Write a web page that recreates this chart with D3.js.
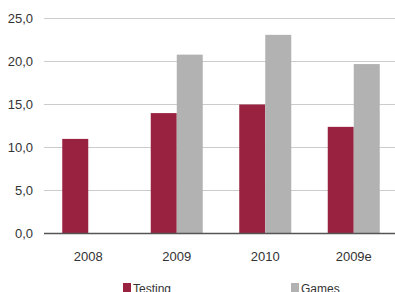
<!DOCTYPE html>
<html>
<head>
<meta charset="utf-8">
<script src="https://cdn.jsdelivr.net/npm/d3@7/dist/d3.min.js"></script>
<style>
  body { margin: 0; background: #fff; }
  svg text { font-family: "Liberation Sans", Arial, sans-serif; fill: #333; }
</style>
</head>
<body>
<svg id="chart" width="395" height="292"></svg>
<script>
var categories = ["2008", "2009", "2010", "2009e"];
var seriesNames = ["Testing", "Games"];
var testing = [11.0, 14.0, 15.0, 12.4];
var games = [null, 20.8, 23.1, 19.7];
var yTicks = [0, 5, 10, 15, 20, 25];
var colors = ["#98223f", "#b2b2b2"];

var svg = d3.select("#chart"),
    plotLeft = 44,
    plotRight = 398,
    plotTop = 18.5,
    plotBottom = 233.5;

var x = d3.scaleBand().domain(categories).range([plotLeft, plotRight]);
var x1 = d3.scaleBand().domain(seriesNames).range([0, 52]);
var y = d3.scaleLinear().domain([0, 25]).range([plotBottom, plotTop]);

// grid
svg.append("g")
    .selectAll("line")
    .data(yTicks.slice(1))
    .enter().append("line")
    .attr("x1", plotLeft).attr("x2", 395)
    .attr("y1", function(d) { return y(d); })
    .attr("y2", function(d) { return y(d); })
    .attr("stroke", "#cccccc")
    .attr("stroke-width", 1);

var yAxis = d3.axisLeft(y).tickValues(yTicks).tickSize(0).tickPadding(11)
    .tickFormat(function(d) { return d3.format(".1f")(d).replace(".", ","); });
var ya = svg.append("g").attr("transform", "translate(" + plotLeft + ",0)").call(yAxis);
ya.select(".domain").remove();
ya.selectAll("text").style("font-size", "13px").attr("fill", "#333");

var rows = categories.map(function(c, i) {
    return [{ cat: c, s: "Testing", v: testing[i] }, { cat: c, s: "Games", v: games[i] }];
});

var groups = svg.append("g").selectAll("g")
    .data(rows)
    .enter().append("g")
    .attr("transform", function(d) { return "translate(" + (x(d[0].cat) + x.bandwidth() / 2 - 26) + ",0)"; });

groups.selectAll("rect")
    .data(function(d) { return d.filter(function(e) { return e.v != null; }); })
    .enter().append("rect")
    .attr("x", function(d) { return x1(d.s); })
    .attr("width", x1.bandwidth())
    .attr("y", function(d) { return y(d.v); })
    .attr("height", function(d) { return y(0) - y(d.v); })
    .attr("fill", function(d) { return colors[seriesNames.indexOf(d.s)]; });

// baseline
svg.append("line")
    .attr("x1", plotLeft).attr("x2", 395)
    .attr("y1", y(0)).attr("y2", y(0))
    .attr("stroke", "#555").attr("stroke-width", 1.5);

var xAxis = d3.axisBottom(x).tickSize(0).tickPadding(18);
var xa = svg.append("g").attr("transform", "translate(0," + plotBottom + ")").call(xAxis);
xa.select(".domain").remove();
xa.selectAll("text").style("font-size", "13px").attr("fill", "#333");

// legend
var legendX = [123, 291];
var legend = svg.append("g").selectAll("g")
    .data(seriesNames)
    .enter().append("g")
    .attr("transform", function(d, i) { return "translate(" + legendX[i] + ",283)"; });
legend.append("rect")
    .attr("width", 8).attr("height", 9)
    .attr("fill", function(d, i) { return colors[i]; });
legend.append("text")
    .attr("x", 10).attr("y", 9.5)
    .style("font-size", "12px")
    .text(function(d) { return d; });
</script>
</body>
</html>
